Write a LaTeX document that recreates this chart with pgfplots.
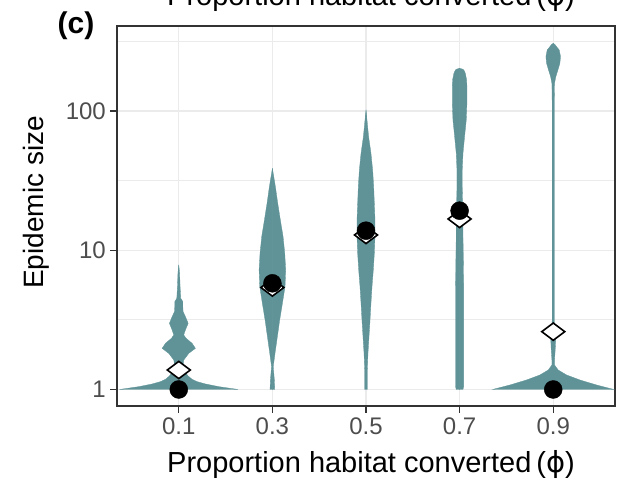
\documentclass[border=0pt]{standalone}
\usepackage{pgfplots}
\usepackage{pgfplotstable}
\pgfplotsset{compat=1.18}
\usepackage{fontspec}
\setmainfont{Liberation Sans}
\newfontfamily\dejavu{DejaVu Sans}
\definecolor{vio}{RGB}{95,147,151}
\definecolor{gridc}{HTML}{EBEBEB}
\definecolor{borderc}{HTML}{333333}
\definecolor{tickc}{HTML}{4D4D4D}

% violin half-widths (in category units) against epidemic size
\pgfplotstableread{
y w
1 0
1 0.634
1.048 0.427
1.095 0.285
1.138 0.196
1.183 0.142
1.250 0.100
1.343 0.064
1.459 0.043
1.628 0.053
1.818 0.107
1.975 0.178
2.146 0.142
2.331 0.078
2.463 0.053
2.675 0.071
2.987 0.100
3.334 0.071
3.622 0.046
3.933 0.043
4.273 0.043
4.516 0.021
5.476 0.014
6.829 0.009
7.838 0
}\vone
\pgfplotstableread{
y w
1 0
1 0.025
1.170 0.021
1.459 0.009
1.818 0.028
2.395 0.053
3.156 0.078
4.157 0.107
5.476 0.135
7.215 0.142
9.504 0.132
12.52 0.114
16.49 0.085
21.73 0.057
28.62 0.032
38.75 0
}\vthree
\pgfplotstableread{
y w
1 0
1 0.014
1.380 0.014
1.818 0.021
2.395 0.032
3.156 0.043
4.157 0.053
5.476 0.064
7.215 0.078
9.504 0.089
12.52 0.096
16.49 0.096
21.73 0.089
28.62 0.082
37.69 0.071
49.66 0.053
65.42 0.028
101.7 0
}\vfive
\pgfplotstableread{
y w
1 0
1 0.036
1.048 0.043
1.818 0.043
3.156 0.043
5.476 0.043
9.504 0.039
12.52 0.036
16.49 0.036
21.73 0.032
28.62 0.028
37.69 0.028
49.66 0.036
65.42 0.053
86.18 0.071
113.5 0.078
149.5 0.078
167.0 0.075
186.5 0.061
197.0 0.045
200.0 0.030
202.5 0
}\vseven
\pgfplotstableread{
y w
1 0
1 0.648
1.077 0.463
1.170 0.285
1.271 0.142
1.380 0.053
1.499 0.014
1.628 0.014
1.921 0.021
2.395 0.028
2.827 0.014
3.156 0.011
28.62 0.011
113.5 0.011
158.0 0.014
176.4 0.028
197.0 0.050
220.0 0.071
245.6 0.078
274.2 0.064
289.7 0.036
300.0 0.018
306.2 0
}\vnine

\begin{document}
\begin{tikzpicture}[x=1pt,y=1pt]
\useasboundingbox (0,0) rectangle (622,480);
\begin{axis}[
  at={(117pt,74pt)}, anchor=south west,
  scale only axis, width=498pt, height=380pt,
  xmin=-0.66, xmax=4.66,
  ymode=log, ymin=0.761, ymax=407.8,
  xtick={0,1,2,3,4}, xticklabels={0.1,0.3,0.5,0.7,0.9},
  ytick={1,10,100}, yticklabels={1,10,100},
  minor ytick={3.1623,31.623,316.23},
  minor xtick={},
  grid=both,
  major grid style={gridc, line width=1.4pt},
  minor grid style={gridc, line width=0.9pt},
  axis line style={borderc, line width=1.6pt},
  tick style={borderc, line width=1.2pt},
  major tick length=7pt, minor tick length=0pt,
  tick align=outside,
  xtick pos=bottom, ytick pos=left,
  /pgf/number format/assume math mode=true,
  tick label style={font=\fontsize{24}{28}\selectfont, text=tickc, inner sep=0pt},
  xticklabel style={anchor=north, yshift=-5pt},
  yticklabel style={anchor=east, xshift=-4pt},
  vfill/.style={fill=vio, draw=vio, line width=0.3pt},
]
\addplot[vfill] table[x expr=\thisrow{w}, y=y] {\vone} -- cycle;
\addplot[vfill] table[x expr=-\thisrow{w}, y=y] {\vone} -- cycle;
\addplot[vfill] table[x expr=1+\thisrow{w}, y=y] {\vthree} -- cycle;
\addplot[vfill] table[x expr=1-\thisrow{w}, y=y] {\vthree} -- cycle;
\addplot[vfill] table[x expr=2+\thisrow{w}, y=y] {\vfive} -- cycle;
\addplot[vfill] table[x expr=2-\thisrow{w}, y=y] {\vfive} -- cycle;
\addplot[vfill] table[x expr=3+\thisrow{w}, y=y] {\vseven} -- cycle;
\addplot[vfill] table[x expr=3-\thisrow{w}, y=y] {\vseven} -- cycle;
\addplot[vfill] table[x expr=4+\thisrow{w}, y=y] {\vnine} -- cycle;
\addplot[vfill] table[x expr=4-\thisrow{w}, y=y] {\vnine} -- cycle;
% means (diamonds)
\addplot[only marks, mark=diamond*, mark size=11.5pt,
  mark options={rotate=90, fill=white, draw=black, line width=1.6pt}]
  coordinates {(0,1.38) (1,5.4) (2,12.87) (3,16.77) (4,2.602)};
% medians (filled circles)
\addplot[only marks, mark=*, mark size=9pt,
  mark options={fill=black, draw=black}]
  coordinates {(0,1) (1,5.787) (2,13.82) (3,19.24) (4,1)};
\end{axis}
\node[rotate=90, anchor=base, font=\fontsize{28}{32}\selectfont] at (43,277.5) {Epidemic size};
\node[anchor=base, font=\fontsize{29}{33}\selectfont] at (371,8) {Proportion habitat converted\,({\dejavu ϕ})};
\node[anchor=base, font=\fontsize{29}{33}\selectfont] at (371,474) {Proportion habitat converted\,({\dejavu ϕ})};
\node[anchor=base, font=\fontsize{30}{34}\selectfont\bfseries] at (76,446) {(c)};
\end{tikzpicture}
\end{document}
